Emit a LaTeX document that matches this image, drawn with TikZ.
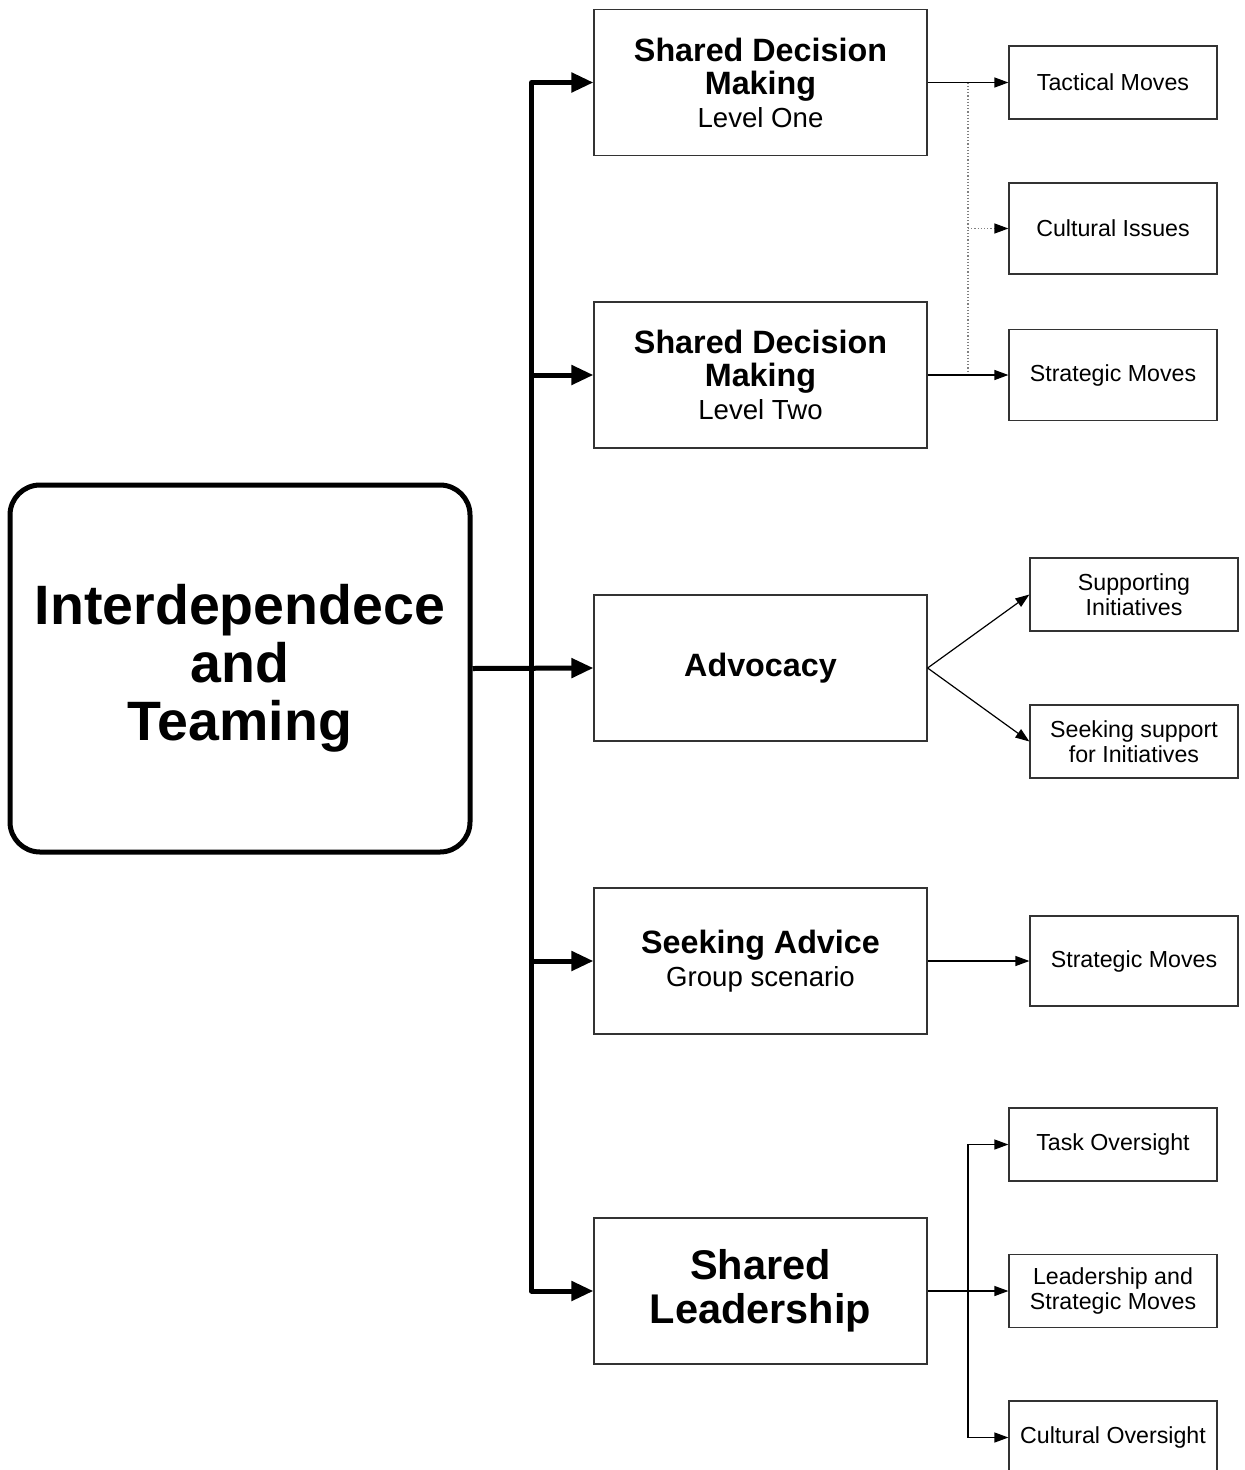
\documentclass[tikz,border=0pt]{standalone}
\usepackage{fontspec}
\setmainfont{Liberation Sans}
\usetikzlibrary{arrows.meta,calc}

\newcommand\subfont{\mdseries\fontsize{27.6}{32}\selectfont}

\tikzset{
  rootbox/.style={draw=black, line width=5pt, rounded corners=30pt, minimum width=460pt,
    minimum height=367pt, inner sep=0pt, align=center,
    font=\bfseries\fontsize{55.5}{58}\selectfont},
  midbox/.style={draw=black!80, line width=1.2pt, minimum width=333pt, minimum height=146pt,
    inner sep=0pt, align=center, font=\bfseries\fontsize{32.3}{33}\selectfont},
  leafbox/.style={draw=black!80, line width=1.2pt, minimum width=208pt, inner sep=0pt,
    align=center, font=\fontsize{23.2}{25}\selectfont},
  trunk/.style={line width=5pt, line join=round, -{Triangle[length=22pt,width=19pt]}},
  twig/.style={line width=1.2pt, -{Triangle[length=14pt,width=10pt]}},
  dotline/.style={line width=1.2pt, gray, dotted},
}

\begin{document}
\begin{tikzpicture}[x=1pt,y=-1pt]
\useasboundingbox (0,0) rectangle (1245,1470);
\clip (0,0) rectangle (1245,1470);

% root
\node[rootbox] (root) at (240,668.5) {Interdependece\\and\\Teaming};

% second level
\node[midbox] (sdm1) at (760.5,82.5) {Shared Decision\\Making\\{\subfont Level One}};
\node[midbox] (sdm2) at (760.5,375) {Shared Decision\\Making\\{\subfont Level Two}};
\node[midbox] (adv)  at (760.5,668) {Advocacy};
\node[midbox] (seek) at (760.5,961) {Seeking Advice\\{\subfont Group scenario}};
\node[midbox, font=\bfseries\fontsize{41.5}{44}\selectfont] (lead) at (760.5,1291) {Shared\\Leadership};

% third level
\node[leafbox, minimum height=73pt] (tact)  at (1113,82.5)  {Tactical Moves};
\node[leafbox, minimum height=91pt] (cult)  at (1113,228.5) {Cultural Issues};
\node[leafbox, minimum height=91pt] (strat) at (1113,375)   {Strategic Moves};
\node[leafbox, minimum height=73pt] (supp)  at (1134,594.5) {Supporting\\Initiatives};
\node[leafbox, minimum height=73pt] (sups)  at (1134,741.5) {Seeking support\\for Initiatives};
\node[leafbox, minimum height=90pt] (strat2) at (1134,961)  {Strategic Moves};
\node[leafbox, minimum height=73pt] (task)  at (1113,1144.5) {Task Oversight};
\node[leafbox, minimum height=73pt] (lsm)   at (1113,1291)  {Leadership and\\Strategic Moves};
\node[leafbox, minimum height=73pt] (cov)   at (1113,1437.5) {Cultural Oversight};

% trunk from the root
\draw[trunk] (root.east) -- (adv.west);
\draw[trunk] (root.east) -- ++(59,0) |- (sdm1.west);
\draw[trunk] (root.east) -- ++(59,0) |- (sdm2.west);
\draw[trunk] (root.east) -- ++(59,0) |- (seek.west);
\draw[trunk] (root.east) -- ++(59,0) |- (lead.west);

% decision making branches
\coordinate (ja) at ($(sdm1.east)!0.5!(tact.west)$);
\coordinate (jb) at ($(sdm2.east)!0.5!(strat.west)$);
\draw[dotline] (ja) -- (jb);
\draw[dotline, -{Triangle[length=14pt,width=10pt,color=black]}] (ja |- cult.west) -- (cult.west);
\draw[twig] (sdm1.east) -- (tact.west);
\draw[twig] (sdm2.east) -- (strat.west);

% advocacy branches
\draw[twig] (adv.east) -- (supp.west);
\draw[twig] (adv.east) -- (sups.west);

% seeking advice
\draw[twig] (seek.east) -- (strat2.west);

% shared leadership branches
\coordinate (jc) at ($(lead.east)!0.5!(lsm.west)$);
\draw[twig] (lead.east) -- (lsm.west);
\draw[twig] (jc) |- (task.west);
\draw[twig] (jc) |- (cov.west);
\end{tikzpicture}
\end{document}
